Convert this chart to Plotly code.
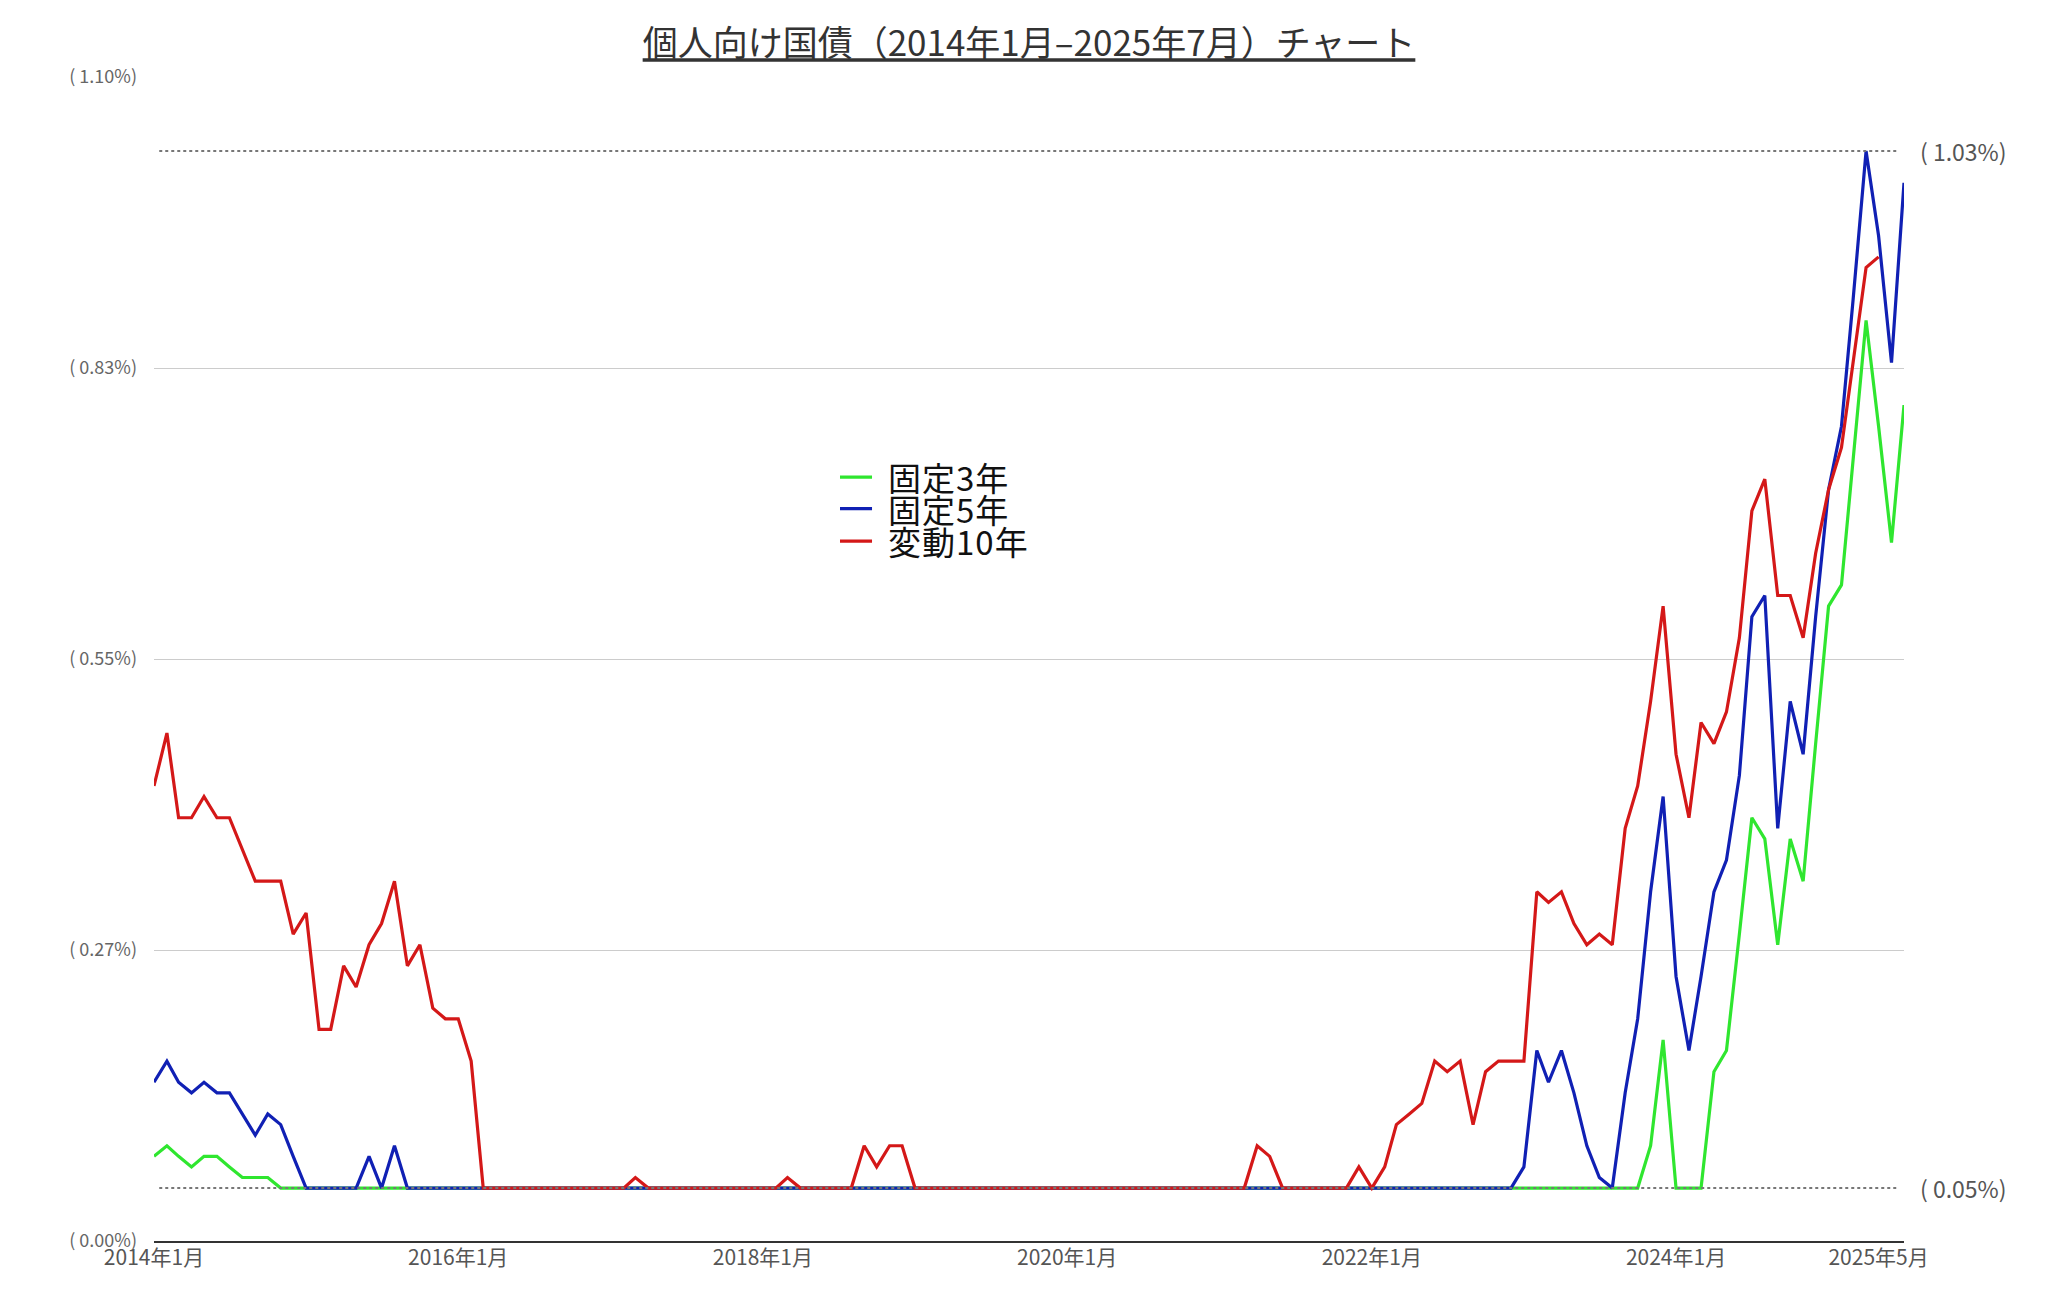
import pandas as pd
import plotly.graph_objects as go

# ---- data (monthly, 2014-01 .. 2025-07) ----
months = pd.date_range("2014-01-01", "2025-07-01", freq="MS")

fixed3 = (
    [0.08, 0.09, 0.08, 0.07, 0.08, 0.08, 0.07, 0.06, 0.06, 0.06, 0.05, 0.05]  # 2014
    + [0.05] * 12  # 2015
    + [0.05] * 12  # 2016
    + [0.05] * 12  # 2017
    + [0.05] * 12  # 2018
    + [0.05] * 12  # 2019
    + [0.05] * 12  # 2020
    + [0.05] * 12  # 2021
    + [0.05] * 12  # 2022
    + [0.05, 0.05, 0.05, 0.05, 0.05, 0.05, 0.05, 0.05, 0.05, 0.05, 0.09, 0.19]  # 2023
    + [0.05, 0.05, 0.05, 0.16, 0.18, 0.29, 0.40, 0.38, 0.28, 0.38, 0.34, 0.47]  # 2024
    + [0.60, 0.62, 0.74, 0.87, 0.77, 0.66, 0.79]  # 2025
)

fixed5 = (
    [0.15, 0.17, 0.15, 0.14, 0.15, 0.14, 0.14, 0.12, 0.10, 0.12, 0.11, 0.08]  # 2014
    + [0.05, 0.05, 0.05, 0.05, 0.05, 0.08, 0.05, 0.09, 0.05, 0.05, 0.05, 0.05]  # 2015
    + [0.05] * 12  # 2016
    + [0.05] * 12  # 2017
    + [0.05] * 12  # 2018
    + [0.05] * 12  # 2019
    + [0.05] * 12  # 2020
    + [0.05] * 12  # 2021
    + [0.05] * 12  # 2022
    + [0.07, 0.18, 0.15, 0.18, 0.14, 0.09, 0.06, 0.05, 0.14, 0.21, 0.33, 0.42]  # 2023
    + [0.25, 0.18, 0.25, 0.33, 0.36, 0.44, 0.59, 0.61, 0.39, 0.51, 0.46, 0.59]  # 2024
    + [0.71, 0.77, 0.89, 1.03, 0.95, 0.83, 1.00]  # 2025
)

floating10 = (
    [0.43, 0.48, 0.40, 0.40, 0.42, 0.40, 0.40, 0.37, 0.34, 0.34, 0.34, 0.29]  # 2014
    + [0.31, 0.20, 0.20, 0.26, 0.24, 0.28, 0.30, 0.34, 0.26, 0.28, 0.22, 0.21]  # 2015
    + [0.21, 0.17, 0.05, 0.05, 0.05, 0.05, 0.05, 0.05, 0.05, 0.05, 0.05, 0.05]  # 2016
    + [0.05, 0.05, 0.06, 0.05, 0.05, 0.05, 0.05, 0.05, 0.05, 0.05, 0.05, 0.05]  # 2017
    + [0.05, 0.05, 0.06, 0.05, 0.05, 0.05, 0.05, 0.05, 0.09, 0.07, 0.09, 0.09]  # 2018
    + [0.05] * 12  # 2019
    + [0.05] * 12  # 2020
    + [0.05, 0.05, 0.05, 0.09, 0.08, 0.05, 0.05, 0.05, 0.05, 0.05, 0.05, 0.07]  # 2021
    + [0.05, 0.07, 0.11, 0.12, 0.13, 0.17, 0.16, 0.17, 0.11, 0.16, 0.17, 0.17]  # 2022
    + [0.17, 0.33, 0.32, 0.33, 0.30, 0.28, 0.29, 0.28, 0.39, 0.43, 0.51, 0.60]  # 2023
    + [0.46, 0.40, 0.49, 0.47, 0.50, 0.57, 0.69, 0.72, 0.61, 0.61, 0.57, 0.65]  # 2024
    + [0.71, 0.75, 0.83, 0.92, 0.93, None, None]  # 2025
)

series_names = ["固定3年", "固定5年", "変動10年"]
series_colors = ["#2fe62f", "#1020b4", "#d41818"]

x_tick_dates = ["2014-01-01", "2016-01-01", "2018-01-01", "2020-01-01",
                "2022-01-01", "2024-01-01", "2025-05-01"]
x_tick_text = ["2014年1月", "2016年1月", "2018年1月", "2020年1月",
               "2022年1月", "2024年1月", "2025年5月"]
y_tick_vals = [0.0, 0.275, 0.55, 0.825, 1.10]
y_tick_text = ["( 0.00%)", "( 0.27%)", "( 0.55%)", "( 0.83%)", "( 1.10%)"]

title_text = "個人向け国債（2014年1月–2025年7月）チャート"

FONT = "Noto Sans CJK JP"
W, H = 2040, 1286
ML, MR, MT, MB = 146, 144, 69, 53

fig = go.Figure()
for name, vals, col in zip(series_names, [fixed3, fixed5, floating10], series_colors):
    fig.add_trace(go.Scatter(
        x=months, y=vals, name=name, mode="lines",
        line=dict(color=col, width=3.2), connectgaps=False,
        showlegend=False,
    ))

# legend (compact, drawn as line samples + text labels)
legend_rows_y = [0.6563, 0.6292, 0.6013]
for name, col, ly in zip(series_names, series_colors, legend_rows_y):
    fig.add_shape(type="line", xref="paper", yref="paper",
                  x0=0.392, x1=0.4103, y0=ly, y1=ly,
                  line=dict(color=col, width=3.2))
    fig.add_annotation(xref="paper", yref="paper", x=0.4181, y=ly,
                       xanchor="left", yanchor="middle", showarrow=False,
                       text=f'<span style="letter-spacing:1px">{name}</span>',
                       font=dict(family=FONT, size=33, color="#111111"))

all_vals = [v for s in (fixed3, fixed5, floating10) for v in s if v is not None]
vmax = max(all_vals)
vmin = min(all_vals)

for v in (vmax, vmin):
    fig.add_shape(type="line", xref="paper", yref="y", x0=0.003, x1=0.996,
                  y0=v, y1=v, line=dict(color="#777777", width=2, dash="dot"),
                  layer="above")
    fig.add_annotation(xref="paper", yref="y", x=1.008, y=v, xanchor="left",
                       yanchor="middle", showarrow=False,
                       text=f"( {v:.2f}%)",
                       font=dict(family=FONT, size=23, color="#555555"))

fig.update_layout(
    width=W, height=H,
    margin=dict(l=ML, r=MR, t=MT, b=MB),
    paper_bgcolor="white", plot_bgcolor="white",
    title=dict(text=f"<u>{title_text}</u>", x=0.5, xref="paper",
               y=1 - 36 / H, yref="container", yanchor="middle",
               xanchor="center",
               font=dict(family=FONT, size=35, color="#333333")),
    showlegend=False,
)

fig.update_xaxes(
    type="date", range=["2014-01-01", "2025-07-01"],
    tickvals=x_tick_dates, ticktext=x_tick_text,
    showgrid=False, zeroline=False,
    showline=True, linecolor="#333333", linewidth=2,
    ticks="", ticklabelstandoff=-3,
    tickfont=dict(family=FONT, size=21, color="#555555"),
)
fig.update_yaxes(
    range=[0, 1.10], tickvals=y_tick_vals, ticktext=y_tick_text,
    showgrid=True, gridcolor="#cccccc", gridwidth=1,
    zeroline=False, showline=False, ticks="", ticklabelstandoff=16,
    tickfont=dict(family=FONT, size=18, color="#666666"),
)

fig.write_html("out.html")
